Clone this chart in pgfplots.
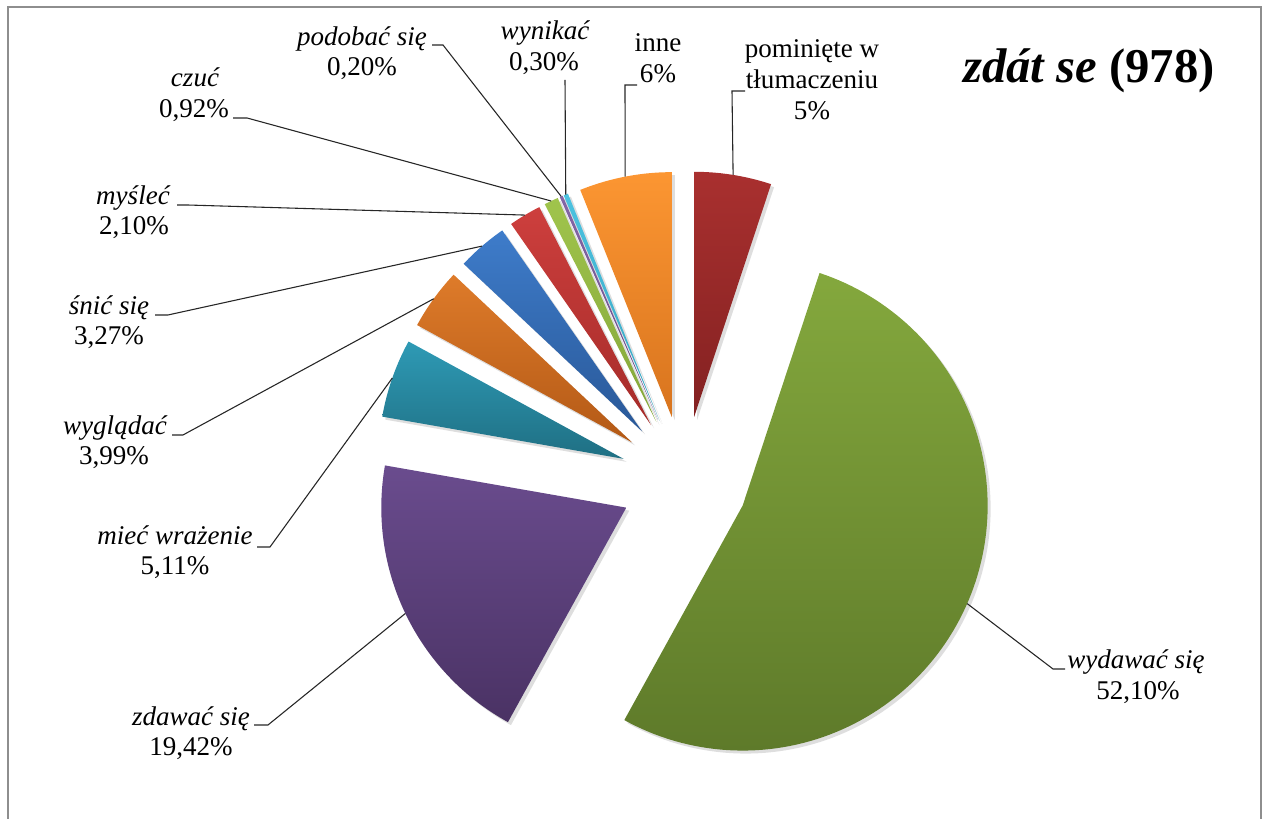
\documentclass[border=0pt]{standalone}
\usepackage{pgfplots}
\pgfplotsset{compat=1.18}
\usepackage{pgfplotstable}
\usepackage{fontspec}
\setmainfont{Liberation Serif}

% slice values (%), clockwise from 12 o'clock
\pgfplotstableread{
idx value
0 5
1 52.10
2 19.42
3 5.11
4 3.99
5 3.27
6 2.10
7 0.92
8 0.20
9 0.30
10 6
}\piedata

\definecolor{cT0}{HTML}{A9302F}\definecolor{cB0}{HTML}{832121}
\definecolor{cT1}{HTML}{84A83D}\definecolor{cB1}{HTML}{5E7A2A}
\definecolor{cT2}{HTML}{6A4C8E}\definecolor{cB2}{HTML}{4A3264}
\definecolor{cT3}{HTML}{2E9AB5}\definecolor{cB3}{HTML}{1F6F83}
\definecolor{cT4}{HTML}{DE7B2A}\definecolor{cB4}{HTML}{B35916}
\definecolor{cT5}{HTML}{3E7CCA}\definecolor{cB5}{HTML}{295898}
\definecolor{cT6}{HTML}{CD3F3D}\definecolor{cB6}{HTML}{A52B29}
\definecolor{cT7}{HTML}{A0C44C}\definecolor{cB7}{HTML}{84A63A}
\definecolor{cT8}{HTML}{8466A6}\definecolor{cB8}{HTML}{684D88}
\definecolor{cT9}{HTML}{4CC2E0}\definecolor{cB9}{HTML}{38A6C2}
\definecolor{cT10}{HTML}{FC9632}\definecolor{cB10}{HTML}{D8741E}
\definecolor{framegray}{HTML}{8E8E8E}

\def\pieCX{684}\def\pieCY{339}\def\pieR{245}\def\pieD{64}

\gdef\pieTotal{0}
\foreach \i in {0,...,10}{%
  \pgfplotstablegetelem{\i}{value}\of\piedata
  \pgfmathsetmacro{\tmpT}{\pieTotal+\pgfplotsretval}%
  \global\let\pieTotal\tmpT
}
\gdef\pieCum{0}
\foreach \i in {0,...,10}{%
  \pgfplotstablegetelem{\i}{value}\of\piedata
  \let\pieVal\pgfplotsretval
  \pgfmathsetmacro{\fracA}{\pieCum/\pieTotal}%
  \pgfmathsetmacro{\fracB}{(\pieCum+\pieVal)/\pieTotal}%
  \pgfmathsetmacro{\angA}{90-360*\fracA}%
  \pgfmathsetmacro{\angB}{90-360*\fracB}%
  \pgfmathsetmacro{\angM}{(\angA+\angB)/2}%
  \pgfmathsetmacro{\apX}{\pieCX+\pieD*cos(\angM)}%
  \pgfmathsetmacro{\apY}{\pieCY+\pieD*sin(\angM)}%
  \pgfmathsetmacro{\arX}{\apX+\pieR*cos(\angM)}%
  \pgfmathsetmacro{\arY}{\apY+\pieR*sin(\angM)}%
  \expandafter\xdef\csname pA\i\endcsname{\angA}%
  \expandafter\xdef\csname pB\i\endcsname{\angB}%
  \expandafter\xdef\csname pX\i\endcsname{\apX}%
  \expandafter\xdef\csname pY\i\endcsname{\apY}%
  \expandafter\xdef\csname lX\i\endcsname{\arX}%
  \expandafter\xdef\csname lY\i\endcsname{\arY}%
  \pgfmathsetmacro{\tmpC}{\pieCum+\pieVal}%
  \global\let\pieCum\tmpC
}

\newcommand\leader[5]{\edef\doit{\noexpand\draw[black!85, line width=0.4pt] (axis cs:#2,#3) -- (axis cs:#4,#5) -- (axis cs:\csname lX#1\endcsname,\csname lY#1\endcsname);}\doit}
\newcommand\lab{\fontsize{10}{12}\selectfont}

\begin{document}
\begin{tikzpicture}
\begin{axis}[name=ax, x=0.37pt, y=0.37pt, xmin=0, xmax=1267, ymin=0, ymax=819,
  hide axis, clip=false, enlargelimits=false]

% frame
\draw[framegray, line width=0.75pt] (axis cs:8,-5) -- (axis cs:8,812) -- (axis cs:1261,812) -- (axis cs:1261,-5);

% shadows
\pgfplotsinvokeforeach{0,...,10}{%
  \edef\doplot{\noexpand\addplot[draw=none, fill=black, fill opacity=0.13, domain=\csname pB#1\endcsname:\csname pA#1\endcsname, samples=120]
    ({\csname pX#1\endcsname+3+\pieR*cos(x)},{\csname pY#1\endcsname-3+\pieR*sin(x)}) -- (axis cs:\csname pX#1\endcsname+3,\csname pY#1\endcsname-3) -- cycle;}%
  \doplot
}
% slices
\pgfplotsinvokeforeach{0,...,10}{%
  \edef\doplot{\noexpand\addplot[draw=none, top color=cT#1, bottom color=cB#1, domain=\csname pB#1\endcsname:\csname pA#1\endcsname, samples=120]
    ({\csname pX#1\endcsname+\pieR*cos(x)},{\csname pY#1\endcsname+\pieR*sin(x)}) -- (axis cs:\csname pX#1\endcsname,\csname pY#1\endcsname) -- cycle;}%
  \doplot
}

% leader lines
\leader{0}{745}{728}{732}{728}
\leader{10}{637}{734}{625}{734}
\leader{9}{565}{739}{565}{739}
\leader{8}{432}{774}{443}{774}
\leader{7}{233}{701}{247}{701}
\leader{6}{177}{614}{187}{614}
\leader{5}{155}{504}{168}{504}
\leader{4}{172}{384}{183}{384}
\leader{3}{257}{272}{270}{272}
\leader{2}{254}{94}{268}{94}
\leader{1}{1065}{150}{1053}{150}

% title
\node[anchor=base] at (axis cs:1089,736) {\fontsize{18}{21}\selectfont\bfseries\itshape zdát se \upshape(978)};

% labels
\node[anchor=base] at (axis cs:812,761) {\lab pominięte w};
\node[anchor=base] at (axis cs:812,730) {\lab tłumaczeniu};
\node[anchor=base] at (axis cs:812,699) {\lab 5\%};
\node[anchor=base] at (axis cs:658,767) {\lab inne};
\node[anchor=base] at (axis cs:658,736) {\lab 6\%};
\node[anchor=base] at (axis cs:545,779) {\lab\itshape wynikać};
\node[anchor=base] at (axis cs:544,748) {\lab 0,30\%};
\node[anchor=base] at (axis cs:362,773) {\lab\itshape podobać się};
\node[anchor=base] at (axis cs:362,743) {\lab 0,20\%};
\node[anchor=base] at (axis cs:195,732) {\lab\itshape czuć};
\node[anchor=base] at (axis cs:194,701) {\lab 0,92\%};
\node[anchor=base] at (axis cs:133,614) {\lab\itshape myśleć};
\node[anchor=base] at (axis cs:134,584) {\lab 2,10\%};
\node[anchor=base] at (axis cs:109,504) {\lab\itshape śnić się};
\node[anchor=base] at (axis cs:109,474) {\lab 3,27\%};
\node[anchor=base] at (axis cs:115,384) {\lab\itshape wyglądać};
\node[anchor=base] at (axis cs:114,354) {\lab 3,99\%};
\node[anchor=base] at (axis cs:175,274) {\lab\itshape mieć wrażenie};
\node[anchor=base] at (axis cs:175,244) {\lab 5,11\%};
\node[anchor=base] at (axis cs:191,93) {\lab\itshape zdawać się};
\node[anchor=base] at (axis cs:191,63) {\lab 19,42\%};
\node[anchor=base] at (axis cs:1136,150) {\lab\itshape wydawać się};
\node[anchor=base] at (axis cs:1138,119) {\lab 52,10\%};
\end{axis}
\pgfresetboundingbox
\path (ax.south west) rectangle (ax.north east);
\end{tikzpicture}
\end{document}
